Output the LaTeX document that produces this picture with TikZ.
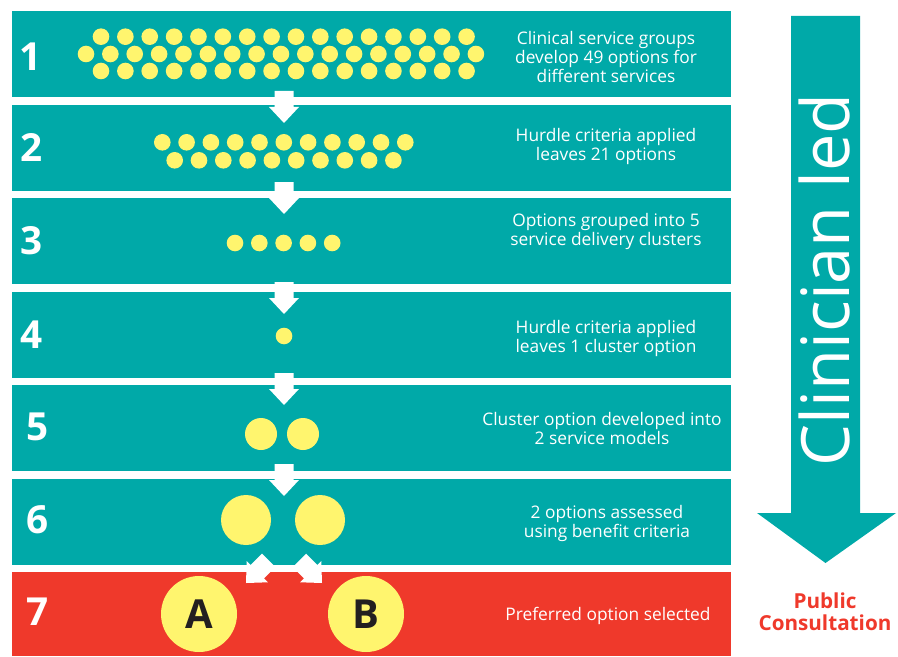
\documentclass[tikz,border=0pt]{standalone}
\usepackage{fontspec}
\setmainfont{Open Sans}

\definecolor{bandteal}{HTML}{00A9A8}
\definecolor{bandred}{HTML}{EF392B}
\definecolor{dotyellow}{HTML}{FFF56E}
\definecolor{letterdark}{HTML}{231F20}

\def\bigarrow{(791,16) -- (860,16) -- (860,513) -- (896,513) -- (825.5,563) -- (757,513) -- (791,513) -- cycle}
\def\smallarrow{(-9.5,-32) -- (9.5,-32) -- (9.5,-16) -- (15,-16) -- (0,0) -- (-15,-16) -- (-9.5,-16) -- cycle}

\tikzset{
  dot/.style={fill=dotyellow},
  stepnum/.style={text=white, inner sep=0pt, font=\fontsize{29}{29}\selectfont\bfseries},
  desc/.style={text=white, align=center, inner sep=0pt, font=\fontsize{13}{14.25}\selectfont},
  letter/.style={text=letterdark, inner sep=0pt, font=\fontsize{30}{30}\selectfont\bfseries},
}

\begin{document}
\begin{tikzpicture}[x=0.75pt, y=-0.75pt]
    \useasboundingbox (0,0) rectangle (898,656);

    % bands
    \foreach \ytop in {11,105,198,292,385,479}
      \fill[bandteal] (12,\ytop) rectangle (731,\ytop+86);
    \fill[bandred] (12,572) rectangle (731,656);

    % arrows between the steps
    \foreach \tip in {123,214,314,405,496}
      \fill[white, shift={(284,\tip)}] \smallarrow;
    \fill[white, shift={(246,583)}, rotate=-45] \smallarrow;
    \fill[white, shift={(322,583)}, rotate=45] \smallarrow;

    % step 1: 49 options
    \foreach \i in {0,...,15} {
      \fill[dot] (101+24.37*\i,36.7) circle (8.3);
      \fill[dot] (101+24.37*\i,71) circle (8.3);
    }
    \foreach \i in {0,...,16}
      \fill[dot] (86+24.37*\i,54) circle (8.3);

    % step 2: 21 options
    \foreach \i in {0,...,10}
      \fill[dot] (162.3+24.3*\i,142.3) circle (8.3);
    \foreach \i in {0,...,9}
      \fill[dot] (174.7+24.3*\i,160.3) circle (8.3);

    % step 3 and 4
    \foreach \i in {0,...,4}
      \fill[dot] (235+24.3*\i,243) circle (8.3);
    \fill[dot] (284,336) circle (8.3);

    % step 5 and 6
    \fill[dot] (261,434) circle (16);
    \fill[dot] (303,434) circle (16);
    \fill[dot] (246,520) circle (25);
    \fill[dot] (320,520) circle (25);

    % step 7
    \fill[dot] (199,614) circle (38);
    \fill[dot] (366,614) circle (38);
    \node (optA) [letter] at (199,614) {A};
    \node (optB) [letter] at (366,614) {B};

    \node (n1) [stepnum] at (31,57) {1};
    \node (n2) [stepnum] at (32,148) {2};
    \node (n3) [stepnum] at (32,241) {3};
    \node (n4) [stepnum] at (32,335) {4};
    \node (n5) [stepnum] at (38,427) {5};
    \node (n6) [stepnum] at (38,520) {6};
    \node (n7) [stepnum] at (38,612) {7};

    \node (t1) [desc] at (606,57) {Clinical service groups\\develop 49 options for\\different services};
    \node (t2) [desc] at (606,146) {Hurdle criteria applied\\leaves 21 options};
    \node (t3) [desc] at (606,231.5) {Options grouped into 5\\service delivery clusters};
    \node (t4) [desc] at (606,338.5) {Hurdle criteria applied\\leaves 1 cluster option};
    \node (t5) [desc] at (602,428.5) {Cluster option developed into\\2 service models};
    \node (t6) [desc] at (607,523.5) {2 options assessed\\using benefit criteria};
    \node (t7) [desc] at (608,616) {Preferred option selected};

    % side arrow
    \fill[bandteal] \bigarrow;
    \node (clin) [rotate=90, anchor=base, text=white, inner sep=0pt,
      font=\fontsize{50}{50}\selectfont] at (849,280) {Clinician led};
    \node (pub) [text=bandred, align=center, inner sep=0pt,
      font=\fontsize{15.5}{16.5}\selectfont\bfseries] at (825,612) {Public\\Consultation};

  \end{tikzpicture}
\end{document}
